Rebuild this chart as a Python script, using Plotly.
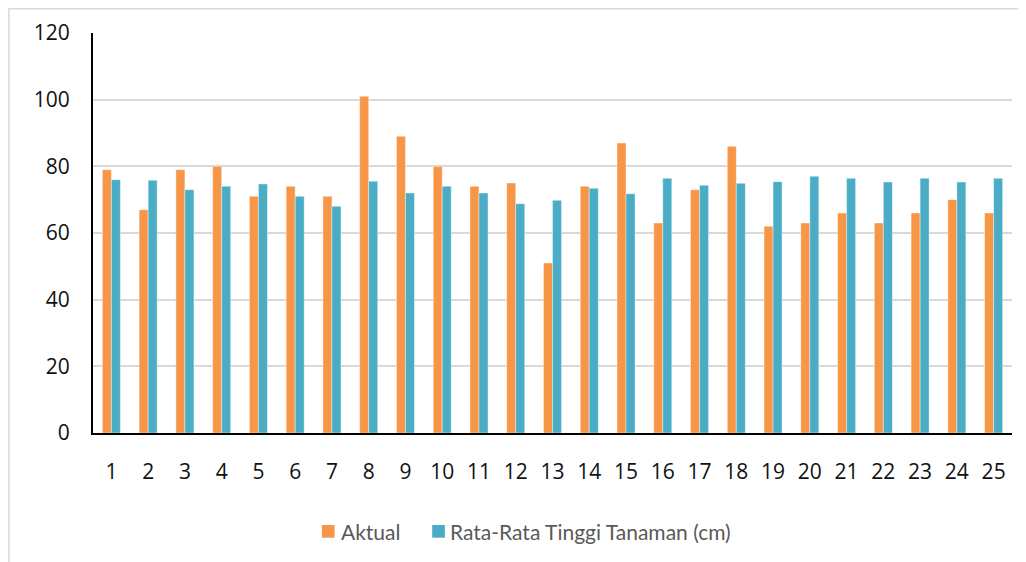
import plotly.graph_objects as go

categories = [str(i) for i in range(1, 26)]
aktual = [79, 67, 79, 80, 71, 74, 71, 101, 89, 80, 74, 75, 51, 74, 87, 63, 73, 86, 62, 63, 66, 63, 66, 70, 66]
rata_rata = [76, 75.8, 73, 74, 74.7, 71, 68, 75.5, 72, 74, 72, 68.8, 69.8, 73.4, 71.8, 76.4, 74.3, 74.9,
             75.4, 77, 76.4, 75.3, 76.4, 75.3, 76.4]
y_ticks = [0, 20, 40, 60, 80, 100, 120]
series_names = ["Aktual", "Rata-Rata Tinggi Tanaman (cm)"]
series_colors = ["#F79646", "#4BACC6"]

W, H = 1026, 562
L, T, pw, ph = 85.1, 25, 919, 400
R, B = W - L - pw, H - T - ph

fig = go.Figure()
for vals, name, col in zip([aktual, rata_rata], series_names, series_colors):
    fig.add_trace(go.Bar(x=categories, y=vals, name=name, marker_color=col,
                         marker_line=dict(color="rgba(255,255,255,0.4)", width=1),
                         showlegend=False))

def fx(p):
    return (p - L) / pw

def fy(p):
    return (H - B - p) / ph

# outer chart border
fig.add_shape(type="rect", xref="paper", yref="paper",
              x0=fx(1), x1=fx(1030), y0=fy(570), y1=fy(0.75),
              line=dict(color="#D9D9D9", width=1.5), fillcolor="rgba(0,0,0,0)", layer="below")

# manual legend
legend_items = [(314, 332.5), (424.3, 441.5)]
for (sx, tx), name, col in zip(legend_items, series_names, series_colors):
    fig.add_shape(type="rect", xref="paper", yref="paper",
                  x0=fx(sx), x1=fx(sx + 12.7), y0=fy(529.7), y1=fy(517),
                  line=dict(width=0), fillcolor=col)
    fig.add_annotation(xref="paper", yref="paper", x=fx(tx), y=fy(523.5),
                       xanchor="left", yanchor="middle", showarrow=False, text=name,
                       font=dict(family="Lato, sans-serif", size=21, color="#595959"),
                       borderpad=0)

fig.update_layout(
    width=W, height=H,
    margin=dict(l=L, r=R, t=T, b=B, autoexpand=False),
    paper_bgcolor="white", plot_bgcolor="white",
    barmode="group", bargap=0.51, bargroupgap=0,
    font=dict(family="Open Sans, sans-serif", color="#000000"),
    showlegend=False,
)
fig.update_yaxes(range=[0, 120], tickvals=y_ticks, showgrid=True, gridcolor="#D9D9D9", gridwidth=1.5,
                 showline=True, linecolor="black", linewidth=2, zeroline=False,
                 tickfont=dict(size=21, color="#111111"), ticks="", ticklabelstandoff=17)
fig.update_xaxes(showline=True, linecolor="black", linewidth=2, showgrid=False,
                 tickfont=dict(size=21, color="#111111"), ticks="", ticklabelstandoff=19)

fig.write_html("out.html")
